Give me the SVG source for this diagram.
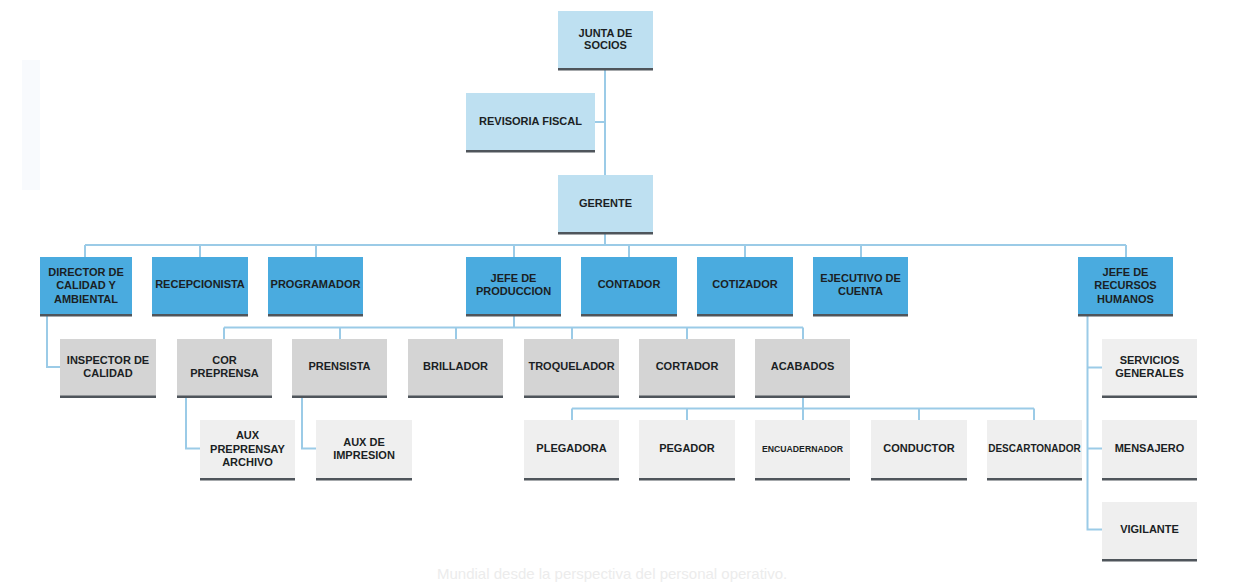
<svg xmlns="http://www.w3.org/2000/svg" width="1248" height="584" viewBox="0 0 1248 584">
<style>
.bg{fill:#ffffff}
.top{fill:#bee0f1}
.l1{fill:#4aabdf}
.l2{fill:#d4d4d4}
.l3{fill:#efefef}
.bb{fill:#4f555b}
.t{font-family:"Liberation Sans",Arial,sans-serif;font-weight:bold;font-size:11px;fill:#1b1f24;text-anchor:middle}
.ts{font-size:8.7px}
.tm{font-size:10px}
.c{fill:none;stroke:#9bcbe7;stroke-width:2}
.ghost{font-family:"Liberation Sans",Arial,sans-serif;font-size:15px;fill:#ececec}
</style>
<rect class="bg" x="0" y="0" width="1248" height="584"/>
<rect x="22" y="60" width="18" height="130" fill="#f8fafd"/>
<text class="ghost" x="437" y="579">Mundial desde la perspectiva del personal operativo.</text>

<g id="connectors">
<polyline class="c" points="605,70 605,175"/>
<polyline class="c" points="595,122 605,122"/>
<polyline class="c" points="605,234 605,245"/>
<polyline class="c" points="85,245 1126,245"/>
<polyline class="c" points="85,245 85,257"/>
<polyline class="c" points="200,245 200,257"/>
<polyline class="c" points="316,245 316,257"/>
<polyline class="c" points="514,245 514,257"/>
<polyline class="c" points="629,245 629,257"/>
<polyline class="c" points="745,245 745,257"/>
<polyline class="c" points="861,245 861,257"/>
<polyline class="c" points="1126,245 1126,257"/>
<polyline class="c" points="47,316 47,367 60,367"/>
<polyline class="c" points="514,316 514,327.5"/>
<polyline class="c" points="224,327.5 803,327.5"/>
<polyline class="c" points="224,327.5 224,339"/>
<polyline class="c" points="340,327.5 340,339"/>
<polyline class="c" points="456,327.5 456,339"/>
<polyline class="c" points="572,327.5 572,339"/>
<polyline class="c" points="687,327.5 687,339"/>
<polyline class="c" points="803,327.5 803,339"/>
<polyline class="c" points="186,397 186,448.5 200,448.5"/>
<polyline class="c" points="302,397 302,448.5 316,448.5"/>
<polyline class="c" points="803,397 803,408.5"/>
<polyline class="c" points="572,408.5 1034,408.5"/>
<polyline class="c" points="572,408.5 572,420"/>
<polyline class="c" points="687,408.5 687,420"/>
<polyline class="c" points="803,408.5 803,420"/>
<polyline class="c" points="919,408.5 919,420"/>
<polyline class="c" points="1034,408.5 1034,420"/>
<polyline class="c" points="1087.5,316 1087.5,529.5 1102,529.5"/>
<polyline class="c" points="1087.5,367.5 1102,367.5"/>
<polyline class="c" points="1087.5,448.5 1102,448.5"/>
</g>

<g id="junta"><rect class="top" x="558" y="11" width="95" height="59"/><rect class="bb" x="558" y="68" width="95" height="2.5"/>
<text class="t" x="605.5" y="36.5">JUNTA DE</text><text class="t" x="605.5" y="49.3">SOCIOS</text></g>
<g id="revisoria"><rect class="top" x="466" y="93" width="129" height="59"/><rect class="bb" x="466" y="150" width="129" height="2.5"/>
<text class="t" x="530.5" y="124.5">REVISORIA FISCAL</text></g>
<g id="gerente"><rect class="top" x="558" y="175" width="95" height="59"/><rect class="bb" x="558" y="232" width="95" height="2.5"/>
<text class="t" x="605.5" y="206.5">GERENTE</text></g>

<g id="director"><rect class="l1" x="40" y="257" width="92" height="59"/><rect class="bb" x="40" y="314" width="92" height="2.5"/>
<text class="t" x="86" y="276">DIRECTOR DE</text><text class="t" x="86" y="289.3">CALIDAD Y</text><text class="t" x="86" y="302.6">AMBIENTAL</text></g>
<g id="recepcionista"><rect class="l1" x="152" y="257" width="96" height="59"/><rect class="bb" x="152" y="314" width="96" height="2.5"/>
<text class="t" x="200" y="288.3">RECEPCIONISTA</text></g>
<g id="programador"><rect class="l1" x="268" y="257" width="95" height="59"/><rect class="bb" x="268" y="314" width="95" height="2.5"/>
<text class="t" x="315.5" y="288.3">PROGRAMADOR</text></g>
<g id="jefe-produccion"><rect class="l1" x="466" y="257" width="95" height="59"/><rect class="bb" x="466" y="314" width="95" height="2.5"/>
<text class="t" x="513.5" y="282.3">JEFE DE</text><text class="t" x="513.5" y="295.3">PRODUCCION</text></g>
<g id="contador"><rect class="l1" x="581" y="257" width="96" height="59"/><rect class="bb" x="581" y="314" width="96" height="2.5"/>
<text class="t" x="629" y="288.3">CONTADOR</text></g>
<g id="cotizador"><rect class="l1" x="697" y="257" width="96" height="59"/><rect class="bb" x="697" y="314" width="96" height="2.5"/>
<text class="t" x="745" y="288.3">COTIZADOR</text></g>
<g id="ejecutivo"><rect class="l1" x="813" y="257" width="95" height="59"/><rect class="bb" x="813" y="314" width="95" height="2.5"/>
<text class="t" x="860.5" y="282.3">EJECUTIVO DE</text><text class="t" x="860.5" y="295.3">CUENTA</text></g>
<g id="jefe-rrhh"><rect class="l1" x="1078" y="257" width="95" height="59"/><rect class="bb" x="1078" y="314" width="95" height="2.5"/>
<text class="t" x="1125.5" y="276">JEFE DE</text><text class="t" x="1125.5" y="289.3">RECURSOS</text><text class="t" x="1125.5" y="302.6">HUMANOS</text></g>

<g id="inspector"><rect class="l2" x="60" y="339" width="96" height="58.5"/><rect class="bb" x="60" y="395.5" width="96" height="2.5"/>
<text class="t" x="108" y="364.3">INSPECTOR DE</text><text class="t" x="108" y="377.3">CALIDAD</text></g>
<g id="cor-preprensa"><rect class="l2" x="177" y="339" width="95" height="58.5"/><rect class="bb" x="177" y="395.5" width="95" height="2.5"/>
<text class="t" x="224.5" y="364.3">COR</text><text class="t" x="224.5" y="377.3">PREPRENSA</text></g>
<g id="prensista"><rect class="l2" x="292" y="339" width="95" height="58.5"/><rect class="bb" x="292" y="395.5" width="95" height="2.5"/>
<text class="t" x="339.5" y="370.3">PRENSISTA</text></g>
<g id="brillador"><rect class="l2" x="408" y="339" width="95" height="58.5"/><rect class="bb" x="408" y="395.5" width="95" height="2.5"/>
<text class="t" x="455.5" y="370.3">BRILLADOR</text></g>
<g id="troquelador"><rect class="l2" x="524" y="339" width="95" height="58.5"/><rect class="bb" x="524" y="395.5" width="95" height="2.5"/>
<text class="t" x="571.5" y="370.3">TROQUELADOR</text></g>
<g id="cortador"><rect class="l2" x="639" y="339" width="96" height="58.5"/><rect class="bb" x="639" y="395.5" width="96" height="2.5"/>
<text class="t" x="687" y="370.3">CORTADOR</text></g>
<g id="acabados"><rect class="l2" x="755" y="339" width="95" height="58.5"/><rect class="bb" x="755" y="395.5" width="95" height="2.5"/>
<text class="t" x="802.5" y="370.3">ACABADOS</text></g>
<g id="servicios"><rect class="l3" x="1102" y="339" width="95" height="58.5"/><rect class="bb" x="1102" y="395.5" width="95" height="2.5"/>
<text class="t" x="1149.5" y="364.3">SERVICIOS</text><text class="t" x="1149.5" y="377.3">GENERALES</text></g>

<g id="aux-preprensa"><rect class="l3" x="200" y="420" width="95" height="60"/><rect class="bb" x="200" y="478" width="95" height="2.5"/>
<text class="t" x="247.5" y="439">AUX</text><text class="t" x="247.5" y="452.6">PREPRENSAY</text><text class="t" x="247.5" y="466">ARCHIVO</text></g>
<g id="aux-impresion"><rect class="l3" x="316" y="420" width="96" height="60"/><rect class="bb" x="316" y="478" width="96" height="2.5"/>
<text class="t" x="364" y="445.5">AUX DE</text><text class="t" x="364" y="458.5">IMPRESION</text></g>
<g id="plegadora"><rect class="l3" x="524" y="420" width="95" height="60"/><rect class="bb" x="524" y="478" width="95" height="2.5"/>
<text class="t" x="571.5" y="452">PLEGADORA</text></g>
<g id="pegador"><rect class="l3" x="639" y="420" width="96" height="60"/><rect class="bb" x="639" y="478" width="96" height="2.5"/>
<text class="t" x="687" y="452">PEGADOR</text></g>
<g id="encuadernador"><rect class="l3" x="755" y="420" width="95" height="60"/><rect class="bb" x="755" y="478" width="95" height="2.5"/>
<text class="t ts" x="802.5" y="451.5">ENCUADERNADOR</text></g>
<g id="conductor"><rect class="l3" x="871" y="420" width="96" height="60"/><rect class="bb" x="871" y="478" width="96" height="2.5"/>
<text class="t" x="919" y="452">CONDUCTOR</text></g>
<g id="descartonador"><rect class="l3" x="987" y="420" width="95" height="60"/><rect class="bb" x="987" y="478" width="95" height="2.5"/>
<text class="t tm" x="1034.5" y="452">DESCARTONADOR</text></g>
<g id="mensajero"><rect class="l3" x="1102" y="420" width="95" height="60"/><rect class="bb" x="1102" y="478" width="95" height="2.5"/>
<text class="t" x="1149.5" y="452">MENSAJERO</text></g>
<g id="vigilante"><rect class="l3" x="1102" y="502" width="95" height="59"/><rect class="bb" x="1102" y="559" width="95" height="2.5"/>
<text class="t" x="1149.5" y="533">VIGILANTE</text></g>
</svg>
